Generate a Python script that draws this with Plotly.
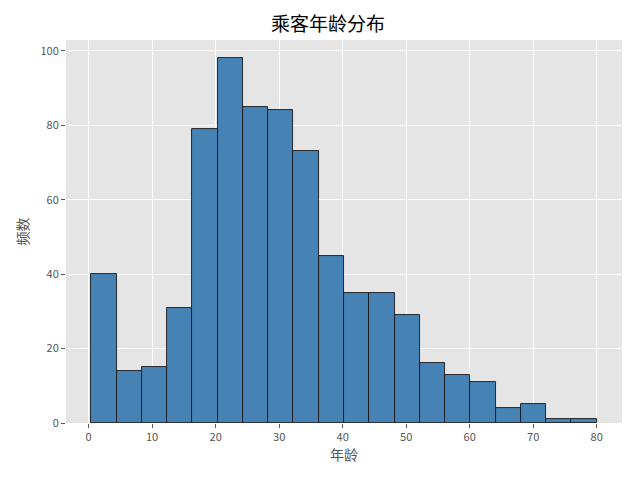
import numpy as np
import plotly.graph_objects as go

bin_start = 0.42
bin_end = 80.0
counts = [40, 14, 15, 31, 79, 98, 85, 84, 73, 45, 35, 35, 29, 16, 13, 11, 4, 5, 1, 1]
x_ticks = [0, 10, 20, 30, 40, 50, 60, 70, 80]
y_ticks = [0, 20, 40, 60, 80, 100]
title = "乘客年龄分布"
x_label = "年龄"
y_label = "频数"

n = len(counts)
edges = np.linspace(bin_start, bin_end, n + 1)
centers = (edges[:-1] + edges[1:]) / 2
width = edges[1] - edges[0]
span = bin_end - bin_start
xr = [bin_start - 0.05 * span, bin_end + 0.05 * span]
yr = [0, max(counts) * 1.05]

font = "Noto Sans CJK SC, DejaVu Sans, sans-serif"

fig = go.Figure(go.Bar(
    x=centers, y=counts, width=width,
    marker=dict(color="#4682B4", line=dict(color="#1a1a1a", width=0.9)),
    hoverinfo="skip",
))

fig.update_layout(
    width=640, height=480,
    paper_bgcolor="white", plot_bgcolor="#E5E5E5",
    margin=dict(l=58, r=26, t=32, b=65, autoexpand=False),
    title=dict(text=title, x=0.5, xanchor="center", y=0.965, yanchor="middle",
               font=dict(family=font, size=19, color="black")),
    font=dict(family=font, color="#555555", size=11),
    showlegend=False,
    bargap=0,
)
fig.update_xaxes(
    range=xr, tickvals=x_ticks, showgrid=True, gridcolor="white", gridwidth=1,
    zeroline=False, ticks="outside", ticklen=4, tickcolor="#555555",
    tickfont=dict(size=11, color="#555555"),
    title=dict(text=x_label, font=dict(size=14, color="#555555"), standoff=6),
)
fig.update_yaxes(
    range=yr, tickvals=y_ticks, showgrid=True, gridcolor="white", gridwidth=1,
    zeroline=False, ticks="outside", ticklen=4, tickcolor="#555555",
    tickfont=dict(size=11, color="#555555"),
    title=dict(text=y_label, font=dict(size=14, color="#555555"), standoff=8),
)

fig.write_html("out.html")
